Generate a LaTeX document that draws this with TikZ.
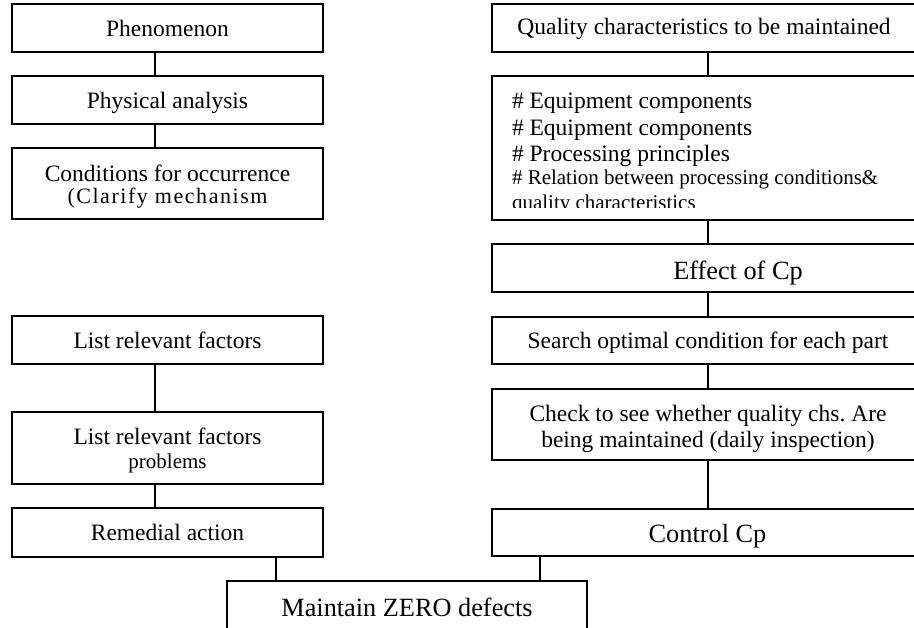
\documentclass[tikz,border=0pt]{standalone}
\usepackage{fontspec}
\setmainfont{Liberation Serif}
\frenchspacing
\newcommand\fsmain{\fontsize{23.5}{26}\selectfont}
\newcommand\fssmall{\fontsize{21}{24}\selectfont}
\newcommand\fsbig{\fontsize{26.3}{29}\selectfont}
\tikzset{
  box/.style={draw, line width=1.8pt, outer sep=0pt, inner sep=0pt},
  lbox/.style={box, minimum width=311pt},
  rbox/.style={box, minimum width=432pt},
  link/.style={line width=1.8pt},
  txt/.style={anchor=base, inner sep=0pt, outer sep=0pt, font=\fsmain},
  eqline/.style={anchor=base west, inner sep=0pt, outer sep=0pt}
}
\begin{document}
\begin{tikzpicture}[x=1pt,y=-1pt]
\useasboundingbox (0,0) rectangle (914,628);
\clip (0,0) rectangle (914,628);

% left column boxes
\node[lbox, minimum height=48pt] (phen)  at (167.5,28)    {};
\node[lbox, minimum height=48pt] (phys)  at (167.5,100)   {};
\node[lbox, minimum height=71pt] (cond)  at (167.5,183.5) {};
\node[lbox, minimum height=48pt] (list1) at (167.5,340)   {};
\node[lbox, minimum height=72pt] (list2) at (167.5,448)   {};
\node[lbox, minimum height=49pt] (rem)   at (167.5,532.5) {};

% right column boxes
\node[rbox, minimum height=48pt]  (qual)   at (708,28)    {};
\node[rbox, minimum height=144pt] (equip)  at (708,148)   {};
\node[rbox, minimum height=48pt]  (eff)    at (708,268)   {};
\node[rbox, minimum height=47pt]  (search) at (708,340.5) {};
\node[rbox, minimum height=71pt]  (check)  at (708,424.5) {};
\node[rbox, minimum height=47pt]  (ctrl)   at (708,532.5) {};

% goal box
\node[box, minimum width=360pt, minimum height=52pt] (zero) at (407,607) {};

% box texts, set on their baselines
\node[txt] (tphen)  at (167.5,37)  {Phenomenon};
\node[txt] (tphys)  at (167.5,109) {Physical analysis};
\node[txt] (tcond)  at (167.5,182) {Conditions for occurrence};
\node[txt, font=\fontsize{22}{24}\selectfont\addfontfeature{LetterSpace=7}]
           (tclar)  at (167.5,204) {(Clarify mechanism};
\node[txt] (tlist1) at (167.5,349) {List relevant factors};
\node[txt] (tlist2) at (167.5,445) {List relevant factors};
\node[txt, font=\fssmall] (tprob) at (167.5,469) {problems};
\node[txt] (trem)   at (167.5,540) {Remedial action};

\node[txt] (tqual)   at (704,35)  {Quality characteristics to be maintained};
\node[txt, font=\fsbig] (teff) at (738,280) {Effect of Cp};
\node[txt] (tsearch) at (708,349) {Search optimal condition for each part};
\node[txt] (tcheck1) at (708,422) {Check to see whether quality chs. Are};
\node[txt] (tcheck2) at (708,448) {being maintained (daily inspection)};
\node[txt, font=\fsbig] (tctrl) at (707.5,543) {Control Cp};
\node[txt, font=\fsbig] (tzero) at (407,616) {Maintain ZERO defects};

% list inside the equipment box, cut off at its lower end
\begin{scope}
  \clip (492,76) rectangle (924,207.5);
  \node[eqline, font=\fsmain]  (eq1) at (512,109)   {\# Equipment components};
  \node[eqline, font=\fsmain]  (eq2) at (512,135.5) {\# Equipment components};
  \node[eqline, font=\fsmain]  (eq3) at (512,162)   {\# Processing principles};
  \node[eqline, font=\fssmall] (eq4) at (512,185)   {\# Relation between processing conditions\&};
  \node[eqline, font=\fssmall] (eq5) at (512,210)   {quality characteristics};
\end{scope}

% connectors
\coordinate (lx) at (155,0);
\coordinate (bl) at (276,0);
\coordinate (br) at (540,0);
\draw[link] (phen.south -| lx)  -- (phys.north -| lx);
\draw[link] (phys.south -| lx)  -- (cond.north -| lx);
\draw[link] (list1.south -| lx) -- (list2.north -| lx);
\draw[link] (list2.south -| lx) -- (rem.north -| lx);

\draw[link] (qual.south)   -- (equip.north);
\draw[link] (equip.south)  -- (eff.north);
\draw[link] (eff.south)    -- (search.north);
\draw[link] (search.south) -- (check.north);
\draw[link] (check.south)  -- (ctrl.north);

\draw[link] (rem.south -| bl)  -- (zero.north -| bl);
\draw[link] (ctrl.south -| br) -- (zero.north -| br);
\end{tikzpicture}
\end{document}
